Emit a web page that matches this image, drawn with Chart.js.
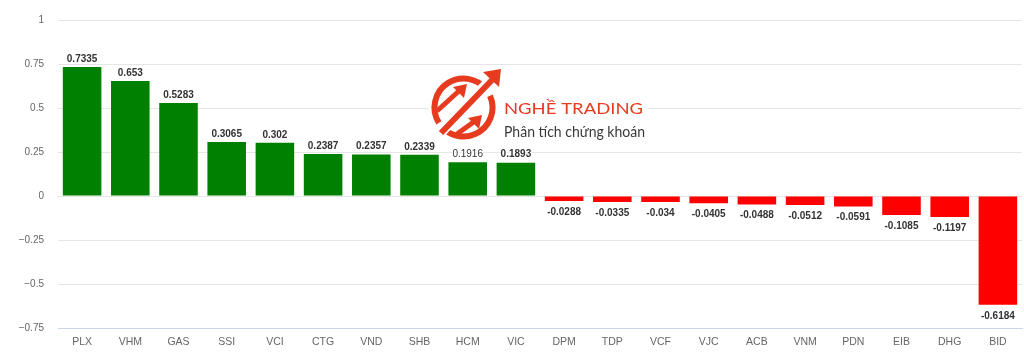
<!DOCTYPE html>
<html>
<head>
<meta charset="utf-8">
<script src="https://cdn.jsdelivr.net/npm/chart.js@4/dist/chart.umd.min.js"></script>
<style>
html,body{margin:0;padding:0;background:#fff;}
#wrap{width:1024px;height:355px;position:relative;}
</style>
</head>
<body>
<div id="wrap"><canvas id="c" width="1024" height="355"></canvas></div>
<script>
const categories = ["PLX","VHM","GAS","SSI","VCI","CTG","VND","SHB","HCM","VIC","DPM","TDP","VCF","VJC","ACB","VNM","PDN","EIB","DHG","BID"];
const values = [0.7335,0.653,0.5283,0.3065,0.302,0.2387,0.2357,0.2339,0.1916,0.1893,-0.0288,-0.0335,-0.034,-0.0405,-0.0488,-0.0512,-0.0591,-0.1085,-0.1197,-0.6184];
const valueLabels = ["0.7335","0.653","0.5283","0.3065","0.302","0.2387","0.2357","0.2339","0.1916","0.1893","-0.0288","-0.0335","-0.034","-0.0405","-0.0488","-0.0512","-0.0591","-0.1085","-0.1197","-0.6184"];
const yTickValues = [1,0.75,0.5,0.25,0,-0.25,-0.5,-0.75];
const yTickLabels = ["1","0.75","0.5","0.25","0","\u22120.25","\u22120.5","\u22120.75"];

const POS = "#008000", NEG = "#ff0000";
const FONT = "'Liberation Sans', Arial, Helvetica, sans-serif";

const logoPlugin = {
  id: 'logo',
  beforeDatasetsDraw(chart) {
    const ctx = chart.ctx;
    ctx.save();
    ctx.fillStyle = '#fff';
    ctx.fillRect(428, 67, 220, 75);
    const col = '#e63b1f';
    const cx = 463.5, cy = 107.5, r = 29;
    ctx.strokeStyle = col; ctx.fillStyle = col;
    ctx.lineWidth = 6; ctx.lineCap = 'butt';
    const d = Math.PI/180;
    ctx.beginPath(); ctx.arc(cx, cy, r, 148*d, 320*d); ctx.stroke();
    ctx.beginPath(); ctx.arc(cx, cy, r, 336*d, 130*d); ctx.stroke();
    // white cut along diagonal
    ctx.strokeStyle = '#fff'; ctx.lineWidth = 11;
    ctx.beginPath(); ctx.moveTo(437, 136); ctx.lineTo(492, 79); ctx.stroke();
    // big arrow
    ctx.strokeStyle = col; ctx.lineWidth = 6;
    ctx.beginPath(); ctx.moveTo(441, 133); ctx.lineTo(492, 80); ctx.stroke();
    ctx.beginPath(); ctx.moveTo(501, 69); ctx.lineTo(499, 87); ctx.lineTo(483, 72); ctx.closePath(); ctx.fill();
    // upper-left arrow
    ctx.lineWidth = 5;
    ctx.beginPath(); ctx.moveTo(437, 111); ctx.lineTo(460, 90); ctx.stroke();
    ctx.beginPath(); ctx.moveTo(467, 84); ctx.lineTo(464, 98); ctx.lineTo(453, 87); ctx.closePath(); ctx.fill();
    // lower arrow
    ctx.beginPath(); ctx.moveTo(457, 134); ctx.lineTo(475, 121); ctx.stroke();
    ctx.beginPath(); ctx.moveTo(482, 115); ctx.lineTo(479, 129); ctx.lineTo(468, 118); ctx.closePath(); ctx.fill();
    // texts
    function fitText(txt, x, y, w, font, color) {
      ctx.font = font; ctx.fillStyle = color; ctx.textAlign = 'left'; ctx.textBaseline = 'alphabetic';
      const m = ctx.measureText(txt).width;
      ctx.save(); ctx.translate(x, y); ctx.scale(w / m, 1); ctx.fillText(txt, 0, 0); ctx.restore();
    }
    fitText('NGH\u1EC0 TRADING', 504, 114, 139, "16px Lato, 'Open Sans', sans-serif", col);
    fitText('Ph\u00E2n t\u00EDch ch\u1EE9ng kho\u00E1n', 504, 137, 141, "15px Lato, 'Open Sans', sans-serif", '#3a3a3a');
    ctx.restore();
  }
};

const labelPlugin = {
  id: 'vlabels',
  afterDatasetsDraw(chart) {
    const ctx = chart.ctx;
    const meta = chart.getDatasetMeta(0);
    ctx.save();
    ctx.textAlign = 'center';
    ctx.textBaseline = 'middle';
    meta.data.forEach((bar, i) => {
      const v = values[i];
      ctx.font = (i === 8 ? 'normal ' : 'bold ') + '10px ' + FONT;
      const y = v >= 0 ? bar.y - 8 : bar.y + 11;
      ctx.lineWidth = 2; ctx.strokeStyle = '#fff'; ctx.lineJoin = 'round';
      ctx.strokeText(valueLabels[i], bar.x, y);
      ctx.fillStyle = '#333';
      ctx.fillText(valueLabels[i], bar.x, y);
    });
    ctx.restore();
  }
};

new Chart(document.getElementById('c'), {
  type: 'bar',
  data: {
    labels: categories,
    datasets: [{
      data: values,
      backgroundColor: values.map(v => v >= 0 ? POS : NEG),
      borderWidth: 0,
      categoryPercentage: 0.8,
      barPercentage: 1.0
    }]
  },
  options: {
    responsive: false,
    animation: false,
    devicePixelRatio: 1,
    layout: { padding: { top: 20, right: 2, left: 0, bottom: 0 } },
    plugins: { legend: { display: false }, tooltip: { enabled: false } },
    scales: {
      x: {
        grid: { display: false, drawTicks: false },
        border: { display: true, color: '#ccd6eb', width: 1 },
        ticks: { color: '#666', font: { family: FONT, size: 10.5 }, padding: 8, maxRotation: 0, autoSkip: false },
        afterFit(s) { s.height = 27; }
      },
      y: {
        min: -0.75, max: 1,
        afterBuildTicks(s) { s.ticks = yTickValues.map(v => ({ value: v })); },
        grid: { color: '#e6e6e6', drawTicks: false },
        border: { display: false },
        ticks: {
          color: '#666', font: { family: FONT, size: 10 }, padding: 14,
          callback(v) { const i = yTickValues.indexOf(v); return i >= 0 ? yTickLabels[i] : ''; }
        },
        afterFit(s) { s.width = 58; }
      }
    }
  },
  plugins: [logoPlugin, labelPlugin]
});
</script>
</body>
</html>
